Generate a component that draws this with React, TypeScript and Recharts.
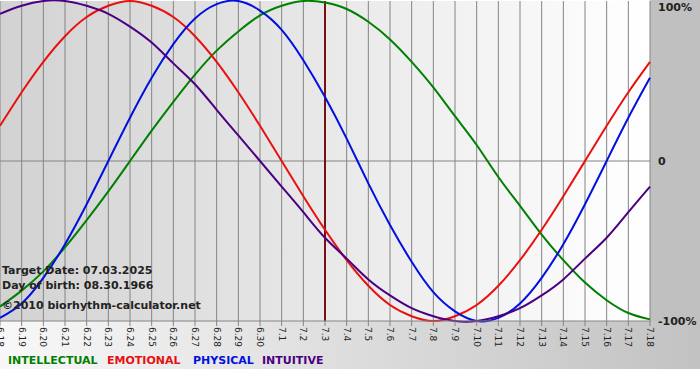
import React from "react";
import {
  LineChart,
  Line,
  XAxis,
  YAxis,
  CartesianGrid,
  ReferenceLine,
} from "recharts";

// days shown on the x axis (June 18 to July 18)
const days = [
  "6.18", "6.19", "6.20", "6.21", "6.22", "6.23", "6.24", "6.25", "6.26", "6.27",
  "6.28", "6.29", "6.30", "7.1", "7.2", "7.3", "7.4", "7.5", "7.6", "7.7",
  "7.8", "7.9", "7.10", "7.11", "7.12", "7.13", "7.14", "7.15", "7.16", "7.17",
  "7.18",
];

// cycle values in percent, one per day
const physical = [
  -98, -89, -73, -52, -27, 0, 27, 52, 73, 89, 98, 100, 94, 82, 63, 40, 14,
  -14, -40, -63, -82, -94, -100, -98, -89, -73, -52, -27, 0, 27, 52,
];
const emotional = [
  22, 43, 62, 78, 90, 97, 100, 97, 90, 78, 62, 43, 22, 0, -22, -43, -62, -78,
  -90, -97, -100, -97, -90, -78, -62, -43, -22, 0, 22, 43, 62,
];
const intellectual = [
  -91, -81, -69, -54, -37, -19, 0, 19, 37, 54, 69, 81, 91, 97, 100, 99, 95,
  87, 76, 62, 46, 28, 10, -10, -28, -46, -62, -76, -87, -95, -99,
];
const intuitive = [
  92, 97, 100, 100, 97, 92, 84, 74, 61, 48, 32, 16, 0, -16, -32, -48, -61,
  -74, -84, -92, -97, -100, -100, -97, -92, -84, -74, -61, -48, -32, -16,
];

const yTicks = [100, 0, -100];
const targetDay = "7.3";

const series = [
  { key: "intellectual", label: "INTELLECTUAL", color: "#008000", left: 8 },
  { key: "emotional", label: "EMOTIONAL", color: "#e81010", left: 107 },
  { key: "physical", label: "PHYSICAL", color: "#0010e0", left: 193 },
  { key: "intuitive", label: "INTUITIVE", color: "#4b0082", left: 262 },
];

const data = days.map((day, i) => ({
  day,
  physical: physical[i],
  emotional: emotional[i],
  intellectual: intellectual[i],
  intuitive: intuitive[i],
}));

const font = "'DejaVu Sans', Verdana, sans-serif";

const DayTick = (props: any) => {
  const { x, y, payload } = props;
  return (
    <text
      x={x}
      y={y}
      transform={`rotate(90, ${x}, ${y})`}
      textAnchor="start"
      dominantBaseline="central"
      fontFamily={font}
      fontSize={9}
      fill="#222"
    >
      {payload.value}
    </text>
  );
};

const PercentTick = (props: any) => {
  const { x, y, payload } = props;
  const v = payload.value;
  return (
    <text
      x={x}
      y={y < 8 ? 7 : y}
      textAnchor="start"
      dominantBaseline="central"
      fontFamily={font}
      fontSize={11}
      fontWeight="bold"
      fill="#222"
    >
      {v === 0 ? "0" : `${v}%`}
    </text>
  );
};

export default function App() {
  return (
    <div
      style={{
        position: "absolute",
        left: 0,
        top: 0,
        width: 700,
        height: 380,
        background: "#fff",
        overflow: "hidden",
      }}
    >
      <div
        style={{
          position: "absolute",
          left: 0,
          top: 321,
          width: 700,
          height: 48,
          background: "linear-gradient(to right, #f8f8f8, #c2c2c2)",
        }}
      />
      <div
        style={{
          position: "absolute",
          left: 650,
          top: 0,
          width: 50,
          height: 321,
          background: "#c0c0c0",
        }}
      />
      <div style={{ position: "absolute", left: 0, top: 0 }}>
        <LineChart
          width={700}
          height={380}
          data={data}
          margin={{ top: 1, right: 0, bottom: 11, left: 0 }}
        >
          <defs>
            <linearGradient id="plotBg" x1="0" y1="0" x2="1" y2="0">
              <stop offset="0%" stopColor="#d2d2d2" />
              <stop offset="100%" stopColor="#ffffff" />
            </linearGradient>
          </defs>
          <CartesianGrid
            horizontal={false}
            stroke="#848484"
            strokeOpacity={1}
            fill="url(#plotBg)"
            fillOpacity={1}
          />
          <XAxis
            dataKey="day"
            scale="point"
            padding={{ left: 0, right: 0 }}
            interval={0}
            height={48}
            stroke="#848484"
            tickSize={5}
            tickMargin={1}
            tick={<DayTick />}
          />
          <YAxis
            orientation="right"
            width={50}
            domain={[-100, 100]}
            ticks={yTicks}
            interval={0}
            axisLine={false}
            tickLine={false}
            tickSize={0}
            tickMargin={8}
            tick={<PercentTick />}
          />
          <ReferenceLine y={0} stroke="#848484" />
          <ReferenceLine x={targetDay} stroke="#7a1010" strokeWidth={2} />
          {series.map((s) => (
            <Line
              key={s.key}
              dataKey={s.key}
              type="natural"
              stroke={s.color}
              strokeWidth={2}
              dot={false}
              isAnimationActive={false}
            />
          ))}
        </LineChart>
      </div>
      <div
        style={{
          position: "absolute",
          left: 2,
          top: 263,
          fontFamily: font,
          fontSize: 11,
          fontWeight: "bold",
          color: "#222",
          lineHeight: "15px",
          whiteSpace: "nowrap",
        }}
      >
        <div>Target Date: 07.03.2025</div>
        <div>Day of birth: 08.30.1966</div>
        <div style={{ marginTop: 5 }}>©2010 biorhythm-calculator.net</div>
      </div>
      {series.map((s) => (
        <div
          key={s.key}
          style={{
            position: "absolute",
            left: s.left,
            top: 354,
            fontFamily: font,
            fontSize: 11,
            fontWeight: "bold",
            whiteSpace: "nowrap",
            color: s.color,
          }}
        >
          {s.label}
        </div>
      ))}
    </div>
  );
}
